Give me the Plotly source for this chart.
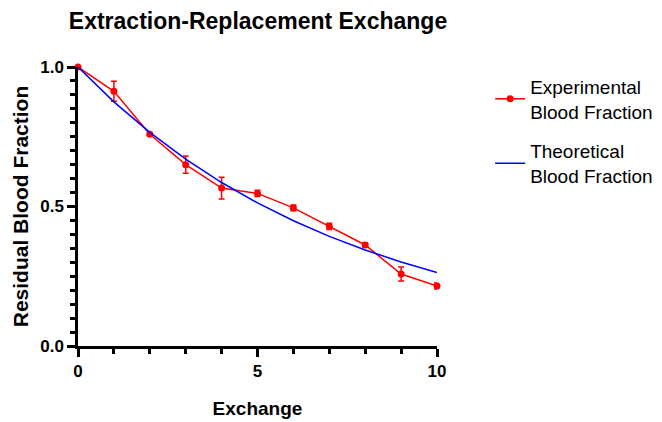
import plotly.graph_objects as go

exchange = [0, 1, 2, 3, 4, 5, 6, 7, 8, 9, 10]
experimental = [1.0, 0.913, 0.759, 0.650, 0.566, 0.547, 0.495, 0.429, 0.362, 0.258, 0.215]
experimental_err = [0.0, 0.036, 0.006, 0.031, 0.039, 0.011, 0.010, 0.011, 0.007, 0.025, 0.011]
theoretical = [1.0, 0.875, 0.766, 0.670, 0.586, 0.513, 0.449, 0.393, 0.344, 0.301, 0.263]
x_ticks = [0, 5, 10]
x_ticklabels = ["0", "5", "10"]
y_ticks = [0, 0.5, 1.0]
y_ticklabels = ["0.0", "0.5", "1.0"]

FONT = "Liberation Sans, Arial, sans-serif"

fig = go.Figure()
fig.add_trace(go.Scatter(
    x=exchange, y=experimental, mode="lines+markers",
    name="Experimental<br>Blood Fraction", legendgroup="exp",
    line=dict(color="#ff0000", width=1.5),
    marker=dict(color="#ff0000", size=7),
    error_y=dict(type="data", array=experimental_err, color="#ff0000", thickness=1.5, width=3),
    cliponaxis=False,
))
fig.add_trace(go.Scatter(
    x=exchange, y=theoretical, mode="lines",
    name="Theoretical<br>Blood Fraction", legendgroup="theo",
    line=dict(color="#0000ff", width=1.5),
    cliponaxis=False,
))

fig.update_layout(
    width=662, height=422,
    margin=dict(l=70, r=230, t=59, b=84),
    paper_bgcolor="white", plot_bgcolor="white",
    title=dict(text="<b>Extraction-Replacement Exchange</b>", x=250/662, xanchor="center",
               y=1 - 13/422, yanchor="middle",
               font=dict(family=FONT, size=23, color="black")),
    font=dict(family=FONT, color="black"),
    legend=dict(x=1.148, xanchor="left", y=0.998, yanchor="top",
                font=dict(family=FONT, size=19, color="black"),
                tracegroupgap=12, itemwidth=30),
    showlegend=True,
)
fig.update_xaxes(
    range=[0, 10], tickvals=x_ticks, ticktext=["<b>%s</b>" % t for t in x_ticklabels],
    showgrid=False, zeroline=False, showline=True, linecolor="black", linewidth=2.5,
    ticks="outside", ticklen=8, tickwidth=2.5, tickcolor="black",
    minor=dict(dtick=1, ticks="outside", ticklen=5, tickwidth=2.5, tickcolor="black", showgrid=False),
    tickfont=dict(family=FONT, size=17, color="black"),
    title=dict(text="<b>Exchange</b>", font=dict(family=FONT, size=19, color="black"), standoff=22),
)
fig.update_yaxes(
    range=[0, 1], tickvals=y_ticks, ticktext=["<b>%s</b>" % t for t in y_ticklabels],
    showgrid=False, zeroline=False, showline=True, linecolor="black", linewidth=2.5,
    ticks="outside", ticklen=8, tickwidth=2.5, tickcolor="black",
    minor=dict(dtick=0.05, ticks="outside", ticklen=5, tickwidth=2.5, tickcolor="black", showgrid=False),
    tickfont=dict(family=FONT, size=17, color="black"),
    title=dict(text="<b>Residual Blood Fraction</b>", font=dict(family=FONT, size=21, color="black"), standoff=6),
)

fig.write_html("out.html")
